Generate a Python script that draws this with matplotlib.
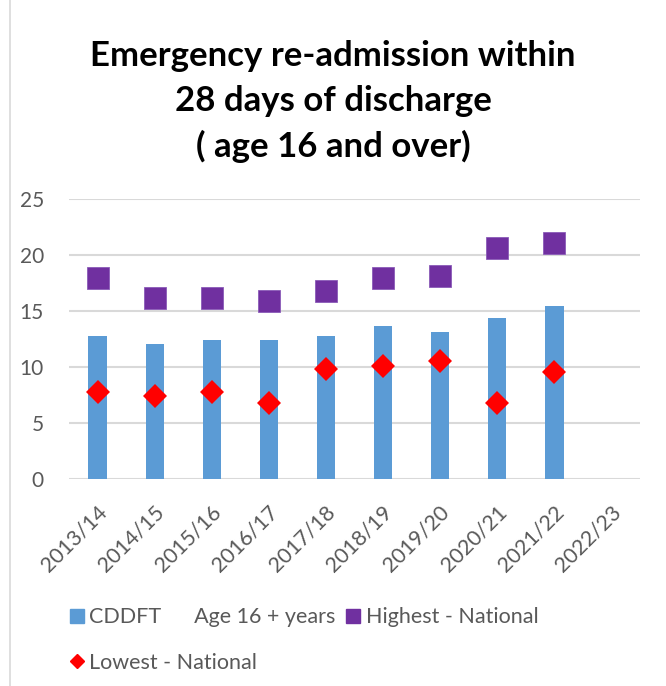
import matplotlib
matplotlib.use("Agg")
import matplotlib.pyplot as plt
import matplotlib.transforms as mtransforms
from matplotlib.lines import Line2D
import numpy as np

plt.rcParams['font.family'] = ['Lato', 'DejaVu Sans']

# Financial years and readmission rates (%)
years = ["2013/14", "2014/15", "2015/16", "2016/17", "2017/18",
         "2018/19", "2019/20", "2020/21", "2021/22", "2022/23"]
cddft = [12.8, 12.05, 12.4, 12.4, 12.8, 13.65, 13.15, 14.4, 15.45]
highest = [17.95, 16.2, 16.2, 15.85, 16.75, 17.95, 18.15, 20.65, 21.05]
lowest = [7.8, 7.45, 7.8, 6.75, 9.8, 10.1, 10.5, 6.75, 9.6]

blue = "#5B9BD5"
purple = "#7030A0"
red = "#FF0000"
grey_text = "#595959"

fig = plt.figure(figsize=(6.66, 6.86), dpi=100)
ax = fig.add_axes([0.1036, 0.3017, 0.8574, 0.4082])

x = np.arange(len(years))
ax.bar(x[:len(cddft)], cddft, width=0.32, color=blue, zorder=2)
ax.plot(x[:len(highest)], highest, linestyle="none", marker="s", markersize=15.6,
        color=purple, markeredgecolor="#8a5bb8", markeredgewidth=0.6, zorder=3)
ax.plot(x[:len(lowest)], lowest, linestyle="none", marker="D", markersize=12.7,
        color=red, markeredgewidth=0, zorder=4)

ax.set_xlim(-0.5, len(years) - 0.5)
ax.set_ylim(0, 25)
ax.set_yticks([0, 5, 10, 15, 20, 25])
ax.grid(axis="y", color="#d9d9d9", linewidth=1.5, zorder=0)
ax.set_axisbelow(True)
for s in ax.spines.values():
    s.set_visible(False)
ax.tick_params(axis="both", length=0, colors=grey_text, labelsize=15)
ax.tick_params(axis="y", pad=18)
ax.set_xticks(x)
ax.set_xticklabels(years, rotation=45, ha="right", rotation_mode="anchor")
ax.tick_params(axis="x", pad=7, labelsize=15.5)

# nudge the slanted year labels down a little
shift = mtransforms.ScaledTranslation(-1 / 100, -13 / 100, fig.dpi_scale_trans)
for lbl in ax.get_xticklabels():
    lbl.set_transform(lbl.get_transform() + shift)

fig.text(0.5, 0.852, "Emergency re-admission within\n28 days of discharge\n( age 16 and over)",
         ha="center", va="center", fontsize=25, fontweight="bold",
         linespacing=1.5, color="black")

# chart area border on the left edge
fig.add_artist(Line2D([0.015, 0.015], [0, 1], transform=fig.transFigure,
                      color="#d9d9d9", linewidth=1.2))

# column-wise fill: CDDFT / Lowest in the first column, Highest in the second
handles = [
    Line2D([], [], linestyle="none", marker="s", markersize=10, color=blue),
    Line2D([], [], linestyle="none", marker="D", markersize=7.6, color=red),
    Line2D([], [], linestyle="none", marker="s", markersize=10, color=purple),
]
labels = ["CDDFT      Age 16 + years", "Lowest - National", "Highest - National"]
fig.legend(handles, labels, loc="upper left", bbox_to_anchor=(0.1036, 0.115),
           ncol=2, frameon=False, fontsize=15.5, labelcolor=grey_text,
           handlelength=0.7, handletextpad=0.25, columnspacing=0.45,
           labelspacing=1.18, borderaxespad=0, borderpad=0)

fig.savefig("out.png", dpi=100)
